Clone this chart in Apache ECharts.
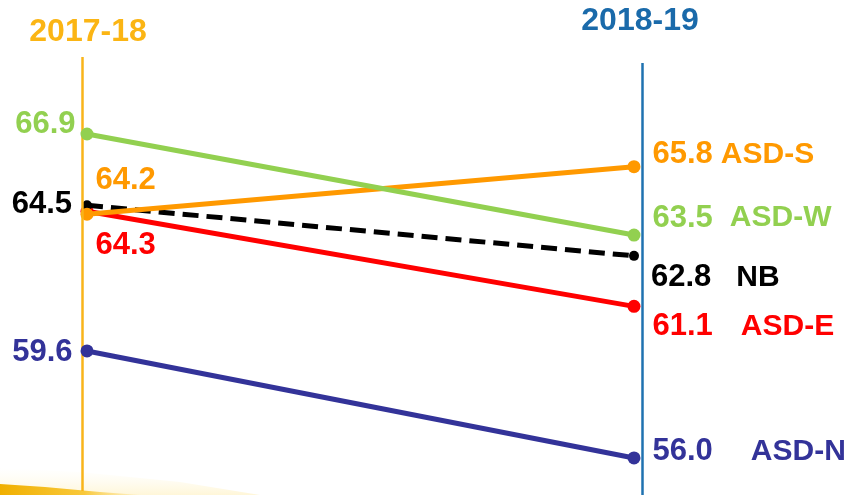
<!DOCTYPE html>
<html>
<head>
<meta charset="utf-8">
<script src="https://cdn.jsdelivr.net/npm/echarts@6/dist/echarts.min.js"></script>
<style>
html,body{margin:0;padding:0;background:#fff;}
#c{width:854px;height:495px;}
</style>
</head>
<body>
<div id="c"></div>
<script>
// ---- data ----
const periods = ['2017-18', '2018-19'];
const seriesNames = ['ASD-E', 'NB', 'ASD-S', 'ASD-W', 'ASD-N'];
const asdE = [64.3, 61.1];
const nb   = [64.5, 62.8];
const asdS = [64.2, 65.8];
const asdW = [66.9, 63.5];
const asdN = [59.6, 56.0];
const values = [asdE, nb, asdS, asdW, asdN];

// ---- styling ----
const FONT = '"Liberation Sans", Arial, sans-serif';
const colors = {'ASD-E':'#FF0000','NB':'#000000','ASD-S':'#FF9900','ASD-W':'#92D050','ASD-N':'#333399'};
// left label placement [position, distance, dy]; right label [dy, gap]
const leftLab = {
  'ASD-E': ['right', 2, 34],
  'NB':    ['left', 10, -1],
  'ASD-S': ['right', 2, -34],
  'ASD-W': ['left', 5, -10],
  'ASD-N': ['left', 8, 2]
};
const rightLab = {
  'ASD-E': [20, 28],
  'NB':    [22, 25],
  'ASD-S': [-12, 8],
  'ASD-W': [-17, 17],
  'ASD-N': [-6, 38]
};

const yMin = 54.753, yMax = 69.491;
const xMin = -0.00914, xMax = 1.01463;

const chart = echarts.init(document.getElementById('c'), null, {renderer:'canvas'});

const series = seriesNames.map((name, i) => {
  const c = colors[name];
  const v = values[i];
  const ll = leftLab[name], rl = rightLab[name];
  return {
    name: name,
    type: 'line',
    z: 2 + i,
    symbol: 'circle',
    symbolSize: name === 'NB' ? 10 : 13,
    lineStyle: {color: c, width: 5, type: name === 'NB' ? [16, 8] : 'solid'},
    itemStyle: {color: c},
    emphasis: {disabled: true},
    animation: false,
    data: [
      {value: [0, v[0]], label: {
        show: true, position: ll[0], distance: ll[1], offset: [0, ll[2]],
        formatter: v[0].toFixed(1),
        color: c, fontSize: 31, fontWeight: 'bold', fontFamily: FONT
      }},
      {value: [1, v[1]], label: {
        show: true, position: 'right', distance: 12, offset: [0, rl[0]],
        formatter: '{v|' + v[1].toFixed(1) + '}{n|' + name + '}',
        rich: {
          v: {color: c, fontSize: 31, fontWeight: 'bold', fontFamily: FONT},
          n: {color: c, fontSize: 30, fontWeight: 'bold', fontFamily: FONT, padding: [0, 0, 0, rl[1]]}
        }
      }}
    ]
  };
});

// period axis lines
series.push({
  name: 'axes', type: 'line', data: [], silent: true, animation: false, z: 1,
  markLine: {
    silent: true, symbol: 'none', animation: false,
    label: {show: false},
    data: [
      [{coord: [xMin, yMax], lineStyle: {color: '#F9B41A', width: 2.5, type: 'solid'}},
       {coord: [xMin, 54.888]}],
      [{coord: [xMax, 69.289], lineStyle: {color: '#1F72B0', width: 2.5, type: 'solid'}},
       {coord: [xMax, yMin]}]
    ]
  }
});

const option = {
  backgroundColor: '#ffffff',
  animation: false,
  grid: {left: 82, right: 212, top: 57, bottom: 0},
  xAxis: {type: 'value', min: xMin, max: xMax, show: false},
  yAxis: {
    type: 'value', min: yMin, max: yMax, show: false
  },
  graphic: [
    {type: 'polygon', z: -2, silent: true,
     shape: {points: [[0, 495], [0, 468], [80, 472], [180, 482], [260, 495]]},
     style: {fill: new echarts.graphic.LinearGradient(0, 0, 0, 1, [
       {offset: 0, color: 'rgba(255,250,225,0)'},
       {offset: 1, color: 'rgba(255,240,190,0.6)'}
     ])}},
    {type: 'polygon', z: -1, silent: true,
     shape: {points: [[0, 495], [0, 484], [45, 487], [100, 492], [140, 495]]},
     style: {fill: new echarts.graphic.LinearGradient(0, 0, 1, 0, [
       {offset: 0, color: 'rgba(240,175,0,1)'},
       {offset: 0.6, color: 'rgba(248,195,40,0.9)'},
       {offset: 1, color: 'rgba(252,225,140,0.3)'}
     ])}},
    {type: 'text', x: 88, y: 32, silent: true,
     style: {text: periods[0], fill: '#FBB514', font: 'bold 32px ' + FONT, textAlign: 'center', textVerticalAlign: 'middle'}},
    {type: 'text', x: 640, y: 21, silent: true,
     style: {text: periods[1], fill: '#1A6AAA', font: 'bold 32px ' + FONT, textAlign: 'center', textVerticalAlign: 'middle'}}
  ],
  series: series
};
chart.setOption(option);
</script>
</body>
</html>
